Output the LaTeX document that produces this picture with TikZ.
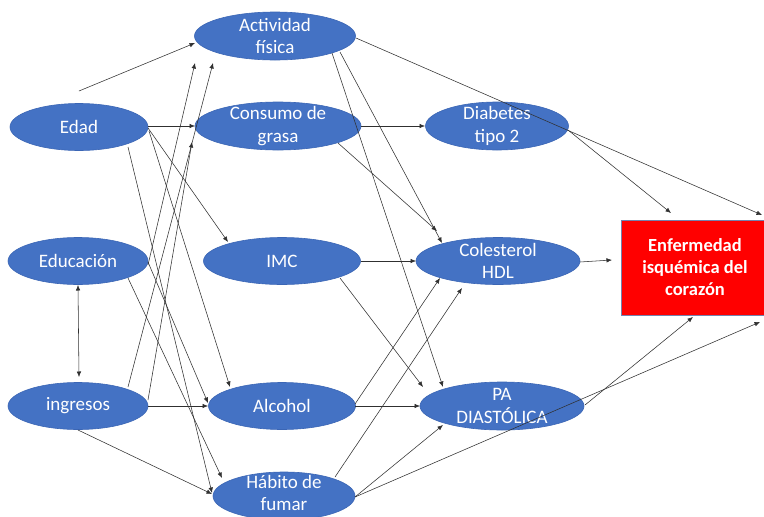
\documentclass[tikz,border=0pt]{standalone}
\usepackage{fontspec}
\setmainfont{Carlito}
\usetikzlibrary{arrows.meta,calc,shapes.geometric}
\definecolor{ellblue}{HTML}{4472C4}
\definecolor{ellline}{HTML}{3B66B5}
\definecolor{boxline}{HTML}{7482AE}
\definecolor{lnk}{HTML}{303030}
\begin{document}
\begin{tikzpicture}[x=1pt,y=-1pt,
  >={Latex[length=5.5pt,width=4.5pt]},
  ell/.style={ellipse, fill=ellblue, draw=ellline, line width=0.6pt, inner sep=0pt},
  txt/.style={text=white, align=center, inner sep=0pt, font=\fontsize{19}{22.5}\selectfont},
  btxt/.style={txt, font=\fontsize{18.5}{22}\selectfont\bfseries},
  conn/.style={draw=lnk, line width=0.55pt, ->},
  dconn/.style={draw=lnk, line width=0.55pt, <->},
  ]
\useasboundingbox (0,0) rectangle (764,517);
\fill[white] (0,0) rectangle (764,517);

% ellipses
\node[ell, minimum width=138pt, minimum height=47pt] (edad) at (79,127) {};
\node[ell, minimum width=140pt, minimum height=47pt] (educ) at (78,261) {};
\node[ell, minimum width=140pt, minimum height=47pt] (ingr) at (78,406) {};
\node[ell, minimum width=161pt, minimum height=48pt] (af) at (275,36) {};
\node[ell, minimum width=166pt, minimum height=48pt] (cg) at (278,126) {};
\node[ell, minimum width=157pt, minimum height=47pt] (imc) at (282,261) {};
\node[ell, minimum width=147pt, minimum height=47pt] (alc) at (282,406) {};
\node[ell, minimum width=142pt, minimum height=48pt] (hab) at (284,496) {};
\node[ell, minimum width=143pt, minimum height=48pt] (dt2) at (497,126) {};
\node[ell, minimum width=164pt, minimum height=47pt] (col) at (498,261) {};
\node[ell, minimum width=164pt, minimum height=48pt] (pa) at (502,406) {};
\node[draw=boxline, fill=red, line width=0.8pt, minimum width=148pt, minimum height=95pt, inner sep=0pt] (eic) at (695,267.5) {};

% texts
\node[txt] (edad-t) at (edad) {Edad};
\node[txt] (educ-t) at (educ) {Educación};
\node[txt] (ingr-t) at (ingr) {ingresos};
\node[txt] (af-t) at (af) {Actividad\\física};
\node[txt] (cg-t) at (cg) {Consumo de\\grasa};
\node[txt] (imc-t) at (imc) {IMC};
\node[txt] (alc-t) at (alc) {Alcohol};
\node[txt] (hab-t) at ($(hab)+(0,-3)$) {Hábito de\\fumar};
\node[txt] (dt2-t) at (dt2) {Diabetes\\tipo 2};
\node[txt] (col-t) at (col) {Colesterol\\HDL};
\node[txt] (pa-t) at (pa) {PA\\DIASTÓLICA};
\node[btxt] (eic-t) at (eic) {Enfermedad\\isquémica del\\corazón};

% free ends
\coordinate (s0) at (79,91);
\coordinate (e1) at (762,215);
\coordinate (e2) at (760,322);

% connectors
\draw[conn] (s0) -- ($(af)+(-80,7)$);
\draw[conn] ($(edad)+(69,-1)$) -- ($(cg)+(-83,0)$);
\draw[conn] ($(edad)+(69,1)$) -- ($(imc)+(-54,-19)$);
\draw[conn] ($(edad)+(70,4)$) -- ($(alc)+(-52,-19)$);
\draw[conn] ($(edad)+(49,20)$) -- ($(hab)+(-72,-3)$);
\draw[conn] ($(educ)+(70,4)$) -- ($(af)+(-80,27)$);
\draw[conn] ($(educ)+(70,1)$) -- ($(alc)+(-74,-3)$);
\draw[conn] ($(educ)+(50,17)$) -- ($(hab)+(-62,-18)$);
\draw[dconn] ($(educ)+(0,24)$) -- ($(ingr)+(1,-29)$);
\draw[conn] ($(ingr)+(50,-19)$) -- ($(af)+(-62,27)$);
\draw[conn] ($(ingr)+(70,-6)$) -- ($(cg)+(-86,16)$);
\draw[conn] ($(ingr)+(70,0)$) -- ($(alc)+(-74,0)$);
\draw[conn] ($(ingr)+(0,24)$) -- ($(hab)+(-72,-2)$);
\draw[conn] ($(cg)+(83,0)$) -- ($(dt2)+(-72,0)$);
\draw[conn] ($(cg)+(60,17)$) -- ($(col)+(-61,-30)$);
\draw[conn] ($(af)+(65,16)$) -- ($(col)+(-56,-18)$);
\draw[conn] ($(af)+(57,17)$) -- ($(pa)+(-59,-19)$);
\draw[conn] ($(af)+(81,2)$) -- (e1);
\draw[conn] ($(imc)+(79,0)$) -- ($(col)+(-82,0)$);
\draw[conn] ($(imc)+(58,17)$) -- ($(pa)+(-79,-19)$);
\draw[conn] ($(alc)+(73,0)$) -- ($(pa)+(-82,0)$);
\draw[conn] ($(alc)+(73,-2)$) -- ($(col)+(-58,17)$);
\draw[conn] ($(hab)+(51,-19)$) -- ($(col)+(-36,27)$);
\draw[conn] ($(hab)+(71,1)$) -- ($(pa)+(-59,19)$);
\draw[conn] ($(hab)+(71,1)$) -- (e2);
\draw[conn] ($(dt2)+(71,4)$) -- ($(eic)+(-24,-54.5)$);
\draw[conn] ($(col)+(82,1)$) -- ($(eic)+(-83,-7.5)$);
\draw[conn] ($(pa)+(83,-1)$) -- ($(eic)+(-2,49.5)$);
\end{tikzpicture}
\end{document}
